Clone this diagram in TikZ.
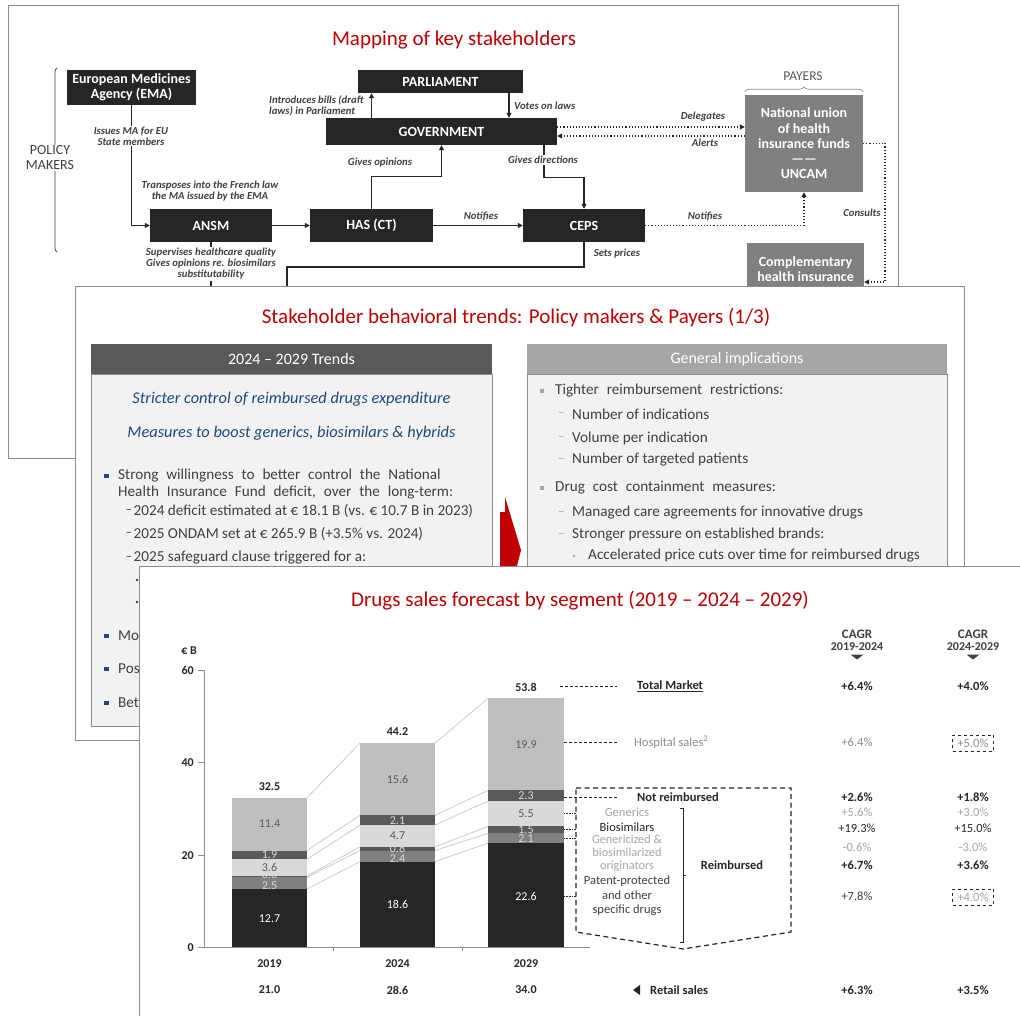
\documentclass[tikz,border=0pt]{standalone}
\usepackage{fontspec}
\setmainfont{Carlito}
\usetikzlibrary{arrows.meta,decorations.pathreplacing,calc}
\definecolor{tred}{HTML}{C00000}
\definecolor{nodek}{HTML}{262626}
\definecolor{nodeg}{HTML}{808080}
\definecolor{lbl}{HTML}{404040}
\definecolor{pborder}{HTML}{8C8C8C}
\definecolor{tblue}{HTML}{1F497D}
\definecolor{hdrL}{HTML}{595959}
\definecolor{hdrR}{HTML}{A6A6A6}
\definecolor{bodyg}{HTML}{F2F2F2}
\definecolor{sgA}{HTML}{262626}
\definecolor{sgB}{HTML}{808080}
\definecolor{sgC}{HTML}{595959}
\definecolor{sgD}{HTML}{D9D9D9}
\definecolor{sgE}{HTML}{595959}
\definecolor{sgF}{HTML}{BFBFBF}
\definecolor{lgray}{HTML}{A6A6A6}
\definecolor{mgray}{HTML}{8C8C8C}
\newcommand\wsp{\spaceskip=0.52em\relax}
\tikzset{
 panel/.style={draw=pborder, fill=white, line width=0.9pt},
 ptitle/.style={text=tred, font=\fontsize{21}{24}\selectfont, inner sep=0pt},
 blkbox/.style={fill=nodek, text=white, font=\bfseries\fontsize{14}{15.2}\selectfont, align=center, inner sep=0pt},
 graybox/.style={blkbox, fill=nodeg},
 elbl/.style={text=lbl, font=\bfseries\itshape\fontsize{10.7}{11}\selectfont, align=center, inner sep=1pt},
 arr/.style={draw=nodek, line width=1.1pt, -{Triangle[length=5pt,width=5pt]}},
 darr/.style={arr, dotted},
 plainln/.style={draw=nodek, line width=1.1pt},
 txt/.style={font=\fontsize{15.2}{17}\selectfont, text=lbl, inner sep=0pt, anchor=west},
 dsh/.style={font=\fontsize{13}{13}\selectfont, inner sep=0pt, anchor=west},
 hdrtxt/.style={font=\fontsize{16}{18}\selectfont, text=white, inner sep=0pt},
 bluei/.style={font=\itshape\fontsize{16.4}{18}\selectfont, text=tblue, inner sep=0pt},
 cline/.style={draw=sgF, line width=0.6pt},
 axisln/.style={draw=mgray, line width=0.8pt},
 seglbl/.style={font=\fontsize{12}{12}\selectfont, inner sep=0pt},
 bnum/.style={font=\bfseries\fontsize{12}{12}\selectfont, text=nodek, inner sep=0pt},
 cg/.style={font=\fontsize{12.5}{12.5}\selectfont, inner sep=0pt},
 cgb/.style={font=\bfseries\fontsize{12.5}{12.5}\selectfont, text=nodek, inner sep=0pt},
 leg/.style={font=\fontsize{12.5}{13}\selectfont, inner sep=0pt, align=center},
 ldash/.style={draw=nodek, line width=0.6pt, densely dashed},
 ldot/.style={draw=nodek, line width=0.6pt, densely dotted},
}
\begin{document}
\begin{tikzpicture}[x=1pt,y=-1pt]
\useasboundingbox (0,0) rectangle (1020,1016);
\fill[white] (0,0) rectangle (1020,1016);

%================ PANEL 1 =================
\draw[panel] (8,5) rectangle (898,458);
\node[ptitle] (t1) at (454,40) {Mapping of key stakeholders};

\node[blkbox, minimum width=129pt, minimum height=35pt] (ema) at (131.5,87.5) {European Medicines\\Agency (EMA)};
\node[blkbox, minimum width=165pt, minimum height=23pt] (parl) at (440.5,81.5) {PARLIAMENT};
\node[blkbox, minimum width=231pt, minimum height=27pt] (gov) at (441.5,131.5) {GOVERNMENT};
\node[blkbox, minimum width=122pt, minimum height=33pt] (ansm) at (211,225.5) {ANSM};
\node[blkbox, minimum width=123pt, minimum height=33pt] (has) at (371.5,225.5) {HAS (CT)};
\node[blkbox, minimum width=122pt, minimum height=33pt] (ceps) at (584,225.5) {CEPS};
\node[graybox, minimum width=118pt, minimum height=97pt] (uncam) at (804,143.5) {National union\\of health\\insurance funds\\——\\UNCAM};
\node[graybox, minimum width=117pt, minimum height=53pt] (comp) at (805.5,269.5) {Complementary\\health insurance};

% braces
\draw[draw=lbl, line width=0.7pt, decorate, decoration={brace, amplitude=4pt}] (57,252) -- (57,68);
\node[font=\fontsize{14}{15}\selectfont, text=lbl, fill=white, align=center, inner sep=1pt] (pm) at (50,158) {POLICY\\MAKERS};
\draw[draw=mgray, line width=0.7pt, decorate, decoration={brace, amplitude=5pt}] ([yshift=3pt]uncam.north west) -- ([yshift=3pt]uncam.north east);
\node[font=\fontsize{13.5}{13.5}\selectfont, text=hdrL] (payers) at (803,76) {PAYERS};

% connectors
\draw[arr] (ema.south) |- (ansm.west);
\draw[arr] (ansm.east) -- (has.west);
\draw[arr] (has.north) -- ++(0,-32) -| (gov.south);
\draw[arr] (gov.north -| has.north) -- (parl.south -| has.north);
\coordinate (vx) at (509,0);
\draw[arr] (parl.south -| vx) -- (gov.north -| vx);
\coordinate (gx) at (544,0);
\draw[arr] (gov.south -| gx) -- ++(0,32) -| (ceps.north);
\draw[arr] (has.east) -- (ceps.west);
\draw[darr] (ceps.east) -| (uncam.south);
\draw[darr] ([yshift=4.5pt]gov.east) -- ([yshift=4.5pt]gov.east -| uncam.west);
\draw[darr] ([yshift=-4.5pt]gov.east -| uncam.west) -- ([yshift=-4.5pt]gov.east);
\coordinate (cx) at (885,282);
\draw[darr] (uncam.east) -| (cx) -- (cx -| comp.east);
\coordinate (sp1) at (287,267);
\coordinate (sp2) at (287,305);
\draw[arr] (ceps.south) |- (sp1) -- (sp2);
\coordinate (an2) at (211,305);
\draw[plainln] (ansm.south) -- (an2);

% labels
\node[elbl, fill=white] (lissue) at (131,136) {Issues MA for EU\\State members};
\node[elbl] (ltransp) at (210,191.5) {Transposes into the French law\\the MA issued by the EMA};
\node[elbl, fill=white] (lsup) at (211,264) {Supervises healthcare quality\\Gives opinions re. biosimilars\\substitutability};
\node[elbl, anchor=west, align=left] (lintro) at (268,106) {Introduces bills (draft\\laws) in Parliament};
\node[elbl, anchor=west] (lvotes) at (513,106) {Votes on laws};
\node[elbl] (lgop) at (380,163) {Gives opinions};
\node[elbl, fill=white] (lgdir) at (543,160) {Gives directions};
\node[elbl] (lnot1) at (481,216) {Notifies};
\node[elbl] (lnot2) at (705,216) {Notifies};
\node[elbl] (ldel) at (703,117) {Delegates};
\node[elbl] (lalert) at (705,143) {Alerts};
\node[elbl] (lcons) at (862,213) {Consults};
\node[elbl] (lsets) at (617,254) {Sets prices};

%================ PANEL 2 =================
\draw[panel] (75,286) rectangle (964,740);
\node[ptitle] (t2) at (516,318) {Stakeholder behavioral trends: Policy makers \& Payers (1/3)};

\draw[draw=pborder, fill=bodyg, line width=0.8pt] (91,374) rectangle (492,726);
\fill[hdrL] (91,344) rectangle (492,374);
\node[hdrtxt] (h1) at (291.5,359) {2024 – 2029 Trends};
\draw[draw=pborder, fill=bodyg, line width=0.8pt] (527,374) rectangle (947,726);
\fill[hdrR] (527,344) rectangle (947,374);
\node[hdrtxt] (h2) at (737,359) {General implications};

\node[bluei] (s1) at (291.5,399) {Stricter control of reimbursed drugs expenditure};
\node[bluei] (s2) at (291.5,433) {Measures to boost generics, biosimilars \& hybrids};

\fill[tblue] (104,473.5) rectangle (108.5,478);
\node[txt] (b1a) at (118,476) {\wsp Strong willingness to better control the National};
\node[txt] (b1b) at (118,493) {\wsp Health Insurance Fund deficit, over the long-term:};
\node[dsh, text=tblue] (d1) at (125.5,511) {–};
\node[txt] (d1t) at (133.5,511) {2024 deficit estimated at € 18.1 B (vs. € 10.7 B in 2023)};
\node[dsh, text=tblue] (d2) at (125.5,534) {–};
\node[txt] (d2t) at (133.5,534) {2025 ONDAM set at € 265.9 B (+3.5\% vs. 2024)};
\node[dsh, text=tblue] (d3) at (125.5,558) {–};
\node[txt] (d3t) at (133.5,558) {2025 safeguard clause triggered for a:};
\fill[tblue] (137,580) circle (1.4pt);
\fill[tblue] (137,602) circle (1.4pt);
\fill[tblue] (104,633.5) rectangle (108.5,638);
\node[txt] (b2) at (118,636) {Mo};
\fill[tblue] (104,666.5) rectangle (108.5,671);
\node[txt] (b3) at (118,669) {Pos};
\fill[tblue] (104,700.5) rectangle (108.5,705);
\node[txt] (b4) at (118,703) {Bet};

\fill[lgray] (540,389) rectangle (544,393);
\node[txt] (r1) at (555,391) {\wsp Tighter reimbursement restrictions:};
\node[dsh, text=lgray] (rd1) at (558,414) {–};
\node[txt] (r1a) at (572,414) {Number of indications};
\node[dsh, text=lgray] (rd2) at (558,438) {–};
\node[txt] (r1b) at (572,438) {Volume per indication};
\node[dsh, text=lgray] (rd3) at (558,460) {–};
\node[txt] (r1c) at (572,460) {Number of targeted patients};
\fill[lgray] (540,486) rectangle (544,490);
\node[txt] (r2) at (555,488) {\wsp Drug cost containment measures:};
\node[dsh, text=lgray] (rd4) at (558,513) {–};
\node[txt] (r2a) at (572,513) {Managed care agreements for innovative drugs};
\node[dsh, text=lgray] (rd5) at (558,535) {–};
\node[txt] (r2b) at (572,535) {Stronger pressure on established brands:};
\fill[lgray] (574,556) circle (1.3pt);
\node[txt] (r2c) at (588,556) {Accelerated price cuts over time for reimbursed drugs};

% red arrow
\fill[tred] (500,512) -- (505,512) -- (505,497) -- (521,550) -- (516,570) -- (500,570) -- cycle;

%================ PANEL 3 =================
\draw[panel] (139,566) rectangle (1040,1040);
\node[ptitle] (t3) at (580,601) {Drugs sales forecast by segment (2019 – 2024 – 2029)};

\begin{scope}[shift={(0,947.7)}, y=4.628pt]
 \foreach \a/\b/\c in {12.7/18.6/22.6, 15.2/21.0/24.7, 15.5/21.8/26.2, 19.1/26.5/31.7, 21.0/28.6/34.0, 32.4/44.2/53.9}{
   \draw[cline] (307,\a) -- (360,\b) (435,\b) -- (488,\c);
 }
 % 2019
 \fill[sgA] (232,0) rectangle (307,12.7);
 \fill[sgB] (232,12.7) rectangle (307,15.2);
 \fill[sgC] (232,15.2) rectangle (307,15.5);
 \fill[sgD] (232,15.5) rectangle (307,19.1);
 \fill[sgE] (232,19.1) rectangle (307,21.0);
 \fill[sgF] (232,21.0) rectangle (307,32.4);
 % 2024
 \fill[sgA] (360,0) rectangle (435,18.6);
 \fill[sgB] (360,18.6) rectangle (435,21.0);
 \fill[sgC] (360,21.0) rectangle (435,21.8);
 \fill[sgD] (360,21.8) rectangle (435,26.5);
 \fill[sgE] (360,26.5) rectangle (435,28.6);
 \fill[sgF] (360,28.6) rectangle (435,44.2);
 % 2029
 \fill[sgA] (488,0) rectangle (564,22.6);
 \fill[sgB] (488,22.6) rectangle (564,24.7);
 \fill[sgC] (488,24.7) rectangle (564,26.2);
 \fill[sgD] (488,26.2) rectangle (564,31.7);
 \fill[sgE] (488,31.7) rectangle (564,34.0);
 \fill[sgF] (488,34.0) rectangle (564,53.9);
 % segment labels
 \node[seglbl, text=white] (v19a) at (269.5,6.3) {12.7};
 \node[seglbl, text=white!85!black] (v19b) at (269.5,13.4) {2.5};
 \node[seglbl, text=white!85!black] (v19c) at (269.5,15.7) {0.3};
 \node[seglbl, text=hdrL] (v19d) at (269.5,17.4) {3.6};
 \node[seglbl, text=white!85!black] (v19e) at (269.5,20.0) {1.9};
 \node[seglbl, text=hdrL] (v19f) at (269.5,26.7) {11.4};
 \node[seglbl, text=white] (v24a) at (397.5,9.3) {18.6};
 \node[seglbl, text=white!85!black] (v24b) at (397.5,19.3) {2.4};
 \node[seglbl, text=white!85!black] (v24c) at (397.5,21.5) {0.8};
 \node[seglbl, text=hdrL] (v24d) at (397.5,24.15) {4.7};
 \node[seglbl, text=white!85!black] (v24e) at (397.5,27.55) {2.1};
 \node[seglbl, text=hdrL] (v24f) at (397.5,36.4) {15.6};
 \node[seglbl, text=white] (v29a) at (526,11.1) {22.6};
 \node[seglbl, text=white!85!black] (v29b) at (526,23.5) {2.1};
 \node[seglbl, text=white!85!black] (v29c) at (526,25.6) {1.5};
 \node[seglbl, text=hdrL] (v29d) at (526,28.95) {5.5};
 \node[seglbl, text=white!85!black] (v29e) at (526,32.85) {2.3};
 \node[seglbl, text=hdrL] (v29f) at (526,43.9) {19.9};
 % totals
 \node[bnum] (tot19) at (269.5,34.9) {32.5};
 \node[bnum] (tot24) at (397.5,46.6) {44.2};
 \node[bnum] (tot29) at (526,56.3) {53.8};
 % axes
 \draw[axisln] (204,0) -- (204,60);
 \foreach \v in {0,20,40,60}{
   \draw[axisln] (198,\v) -- (204,\v);
   \node[bnum, anchor=east] (ax\v) at (194,\v) {\v};
 }
 \node[bnum, anchor=east] (eurb) at (197,64.1) {€ B};
 \draw[axisln] (204,0) -- (590,0);
 \draw[axisln] (333,0) -- (333,-0.7);
 \draw[axisln] (462,0) -- (462,-0.7);
\end{scope}

\node[bnum] (y19) at (269.5,964) {2019};
\node[bnum] (y24) at (397.5,964) {2024};
\node[bnum] (y29) at (526,964) {2029};
\node[bnum] (rt19) at (269.5,990) {21.0};
\node[bnum] (rt24) at (397.5,990) {28.6};
\node[bnum] (rt29) at (526,990) {34.0};

% CAGR headers
\node[bnum, align=center, font=\bfseries\fontsize{13}{12}\selectfont, text=lbl] (cgh1) at (857,640) {CAGR\\{\fontsize{12}{12}\selectfont 2019-2024}};
\node[bnum, align=center, font=\bfseries\fontsize{13}{12}\selectfont, text=lbl] (cgh2) at (973,640) {CAGR\\{\fontsize{12}{12}\selectfont 2024-2029}};
\fill[lbl] (850.5,654.5) -- (863.5,654.5) -- (857,659.5) -- cycle;
\fill[lbl] (966.5,654.5) -- (979.5,654.5) -- (973,659.5) -- cycle;

% legend labels
\node[leg, font=\bfseries\fontsize{12.5}{13}\selectfont, text=nodek, anchor=west] (ltm) at (637,686) {\underline{Total Market}};
\node[leg, text=mgray, anchor=west] (lhosp) at (634,742) {Hospital sales\textsuperscript{2}};
\node[leg, font=\bfseries\fontsize{12.5}{13}\selectfont, text=nodek] (lnr) at (678,797) {Not reimbursed};
\node[leg, text=lgray] (lgen) at (627,812) {Generics};
\node[leg, text=nodek] (lbio) at (627,827.5) {Biosimilars};
\node[leg, text=lgray, font=\fontsize{12.3}{12.8}\selectfont] (lgo) at (627,853) {Genericized \&\\biosimilarized\\originators};
\node[leg, font=\bfseries\fontsize{12.5}{13}\selectfont, text=nodek] (lreimb) at (732,865) {Reimbursed};
\node[leg, text=lbl, font=\fontsize{12.5}{14.5}\selectfont] (lpat) at (627,896) {Patent-protected\\and other\\specific drugs};
\fill[nodek] (640,985) -- (640,995) -- (633,990) -- cycle;
\node[leg, font=\bfseries\fontsize{12.5}{13}\selectfont, text=nodek, anchor=west] (lret) at (650,990) {Retail sales};

% leaders
\coordinate (ld1) at (560,686);
\coordinate (ld2) at (564,742);
\coordinate (ld3) at (564,797);
\coordinate (le) at (617,0);
\draw[ldash] (ld1) -- (ld1 -| le);
\draw[ldash] (ld2) -- (ld2 -| le);
\draw[ldash] (ld3) -- (ld3 -| le);
\coordinate (dl1) at (564,813);
\coordinate (dl2) at (564,829);
\coordinate (dl3) at (564,838);
\coordinate (dl4) at (564,896);
\coordinate (de) at (576,0);
\foreach \c in {dl1,dl2,dl3,dl4}{\draw[ldot] (\c) -- (\c -| de);}

% dashed group outline
\draw[draw=nodek, line width=1.2pt, dash pattern=on 5pt off 3.5pt] (576,788) -- (791,788) -- (791,932) -- (683,949) -- (576,932) -- cycle;
% bracket
\draw[draw=nodek, line width=0.8pt] (680,808) -- (683,808) -- (683,942) -- (680,942);
\draw[draw=nodek, line width=0.8pt] (683,875) -- (686,875);

% CAGR values
\node[cgb] (c1a) at (857,686) {+6.4\%};
\node[cgb] (c1b) at (973,686) {+4.0\%};
\node[cg, text=mgray] (c2a) at (857,742) {+6.4\%};
\node[cg, text=mgray, draw=nodek, dashed, line width=0.8pt, minimum width=41pt, minimum height=16pt] (c2b) at (973,743) {+5.0\%};
\node[cgb] (c3a) at (857,797) {+2.6\%};
\node[cgb] (c3b) at (973,797) {+1.8\%};
\node[cg, text=lgray] (c4a) at (857,812) {+5.6\%};
\node[cg, text=lgray] (c4b) at (973,812) {+3.0\%};
\node[cg, text=nodek] (c5a) at (857,828) {+19.3\%};
\node[cg, text=nodek] (c5b) at (973,828) {+15.0\%};
\node[cg, text=lgray] (c6a) at (857,847) {-0.6\%};
\node[cg, text=lgray] (c6b) at (973,847) {-3.0\%};
\node[cgb] (c7a) at (857,865) {+6.7\%};
\node[cgb] (c7b) at (973,865) {+3.6\%};
\node[cg, text=lbl] (c8a) at (857,896) {+7.8\%};
\node[cg, text=lgray, draw=nodek, dashed, line width=0.8pt, minimum width=41pt, minimum height=16pt] (c8b) at (973,897) {+4.0\%};
\node[cgb] (c9a) at (857,990) {+6.3\%};
\node[cgb] (c9b) at (973,990) {+3.5\%};
\end{tikzpicture}
\end{document}
